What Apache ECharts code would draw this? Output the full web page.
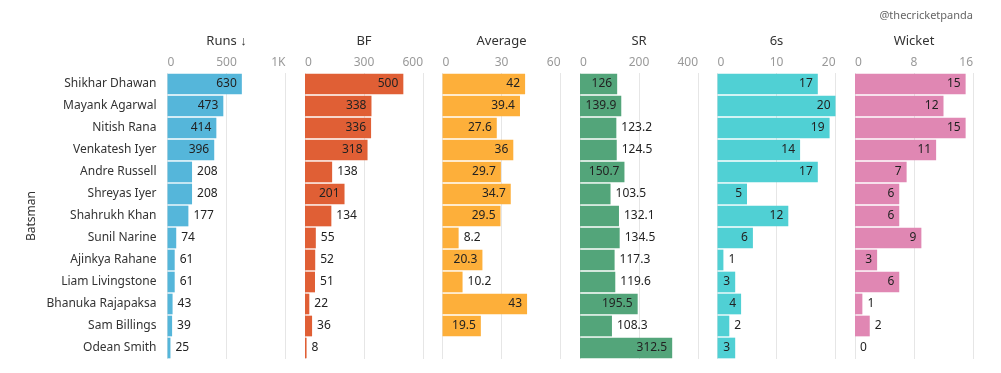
<!DOCTYPE html>
<html>
<head>
<meta charset="utf-8">
<script src="https://cdn.jsdelivr.net/npm/echarts@6/dist/echarts.min.js"></script>
<style>
html,body{margin:0;padding:0;background:#fff;}
#chart{width:1001px;height:373px;}
</style>
</head>
<body>
<div id="chart"></div>
<script>
const batsmen = ["Shikhar Dhawan","Mayank Agarwal","Nitish Rana","Venkatesh Iyer","Andre Russell","Shreyas Iyer","Shahrukh Khan","Sunil Narine","Ajinkya Rahane","Liam Livingstone","Bhanuka Rajapaksa","Sam Billings","Odean Smith"];
const runs = [630,473,414,396,208,208,177,74,61,61,43,39,25];
const ballsFaced = [500,338,336,318,138,201,134,55,52,51,22,36,8];
const average = [42,39.4,27.6,36,29.7,34.7,29.5,8.2,20.3,10.2,43,19.5,null];
const strikeRate = [126,139.9,123.2,124.5,150.7,103.5,132.1,134.5,117.3,119.6,195.5,108.3,312.5];
const sixes = [17,20,19,14,17,5,12,6,1,3,4,2,3];
const wickets = [15,12,15,11,7,6,6,9,3,6,1,2,0];

const panelTitles = ["Runs \u2193","BF","Average","SR","6s","Wicket"];
const axisMax = [1000,600,60,400,20,16];
const axisStep = [500,300,30,200,10,8];
const panelData = [runs,ballsFaced,average,strikeRate,sixes,wickets];
const colors = ["#55B6DA","#E05F35","#FDAF3A","#53A57A","#50D0D4","#E087B3"];

const FONT = "Noto Sans";
const LABEL_SIZE = 12;
const panelLeft = 167.5, panelW = 118, panelStep = 137.5, gridTop = 73, gridH = 286;

const ctx = document.createElement('canvas').getContext('2d');
ctx.font = LABEL_SIZE + 'px "' + FONT + '"';
function tw(s){ return ctx.measureText(s).width; }

const grids = [], xAxes = [], yAxes = [], series = [];
panelData.forEach((arr, i) => {
  grids.push({left: panelLeft + i*panelStep, top: gridTop, width: panelW, height: gridH});
  xAxes.push({
    type:'value', gridIndex:i, position:'top', min:0, max:axisMax[i], interval:axisStep[i],
    name: panelTitles[i], nameLocation:'middle', nameGap:25,
    nameTextStyle:{fontFamily:FONT, fontSize:13, color:'#333'},
    axisLine:{show:false}, axisTick:{show:false},
    splitLine:{show:true, lineStyle:{color:'#E6E6E6', width:1}},
    axisLabel:{fontFamily:FONT, fontSize:12, color:'#999', margin:4,
      alignMinLabel:'left', alignMaxLabel:'right',
      formatter: v => (v >= 1000 ? (v/1000) + 'K' : String(v))}
  });
  yAxes.push({
    type:'category', gridIndex:i, data:batsmen, inverse:true,
    axisLine:{show:false}, axisTick:{show:false}, splitLine:{show:false},
    axisLabel:{show: i===0, fontFamily:FONT, fontSize:12, color:'#333', margin:11},
    name: i===0 ? 'Batsman' : '', nameLocation:'middle', nameRotate:90, nameGap:130,
    nameTextStyle:{fontFamily:FONT, fontSize:12, color:'#333'}
  });
  const data = arr.map(v => {
    if (v === null) return {value:null};
    const px = v / axisMax[i] * panelW;
    const inside = px >= tw(String(v)) + 10.5;
    return {value:v, label:{position: inside ? 'insideRight' : 'right'}};
  });
  series.push({
    type:'bar', xAxisIndex:i, yAxisIndex:i, data:data, barCategoryGap:'6%',
    itemStyle:{color:colors[i]},
    label:{show:true, fontFamily:FONT, fontSize:LABEL_SIZE, color:'#222', distance:5},
    silent:true, animation:false
  });
});

const chart = echarts.init(document.getElementById('chart'), null, {renderer:'canvas'});
chart.setOption({
  animation:false,
  title:{text:'@thecricketpanda', right:23, top:5, textStyle:{fontFamily:FONT, fontSize:11, fontWeight:'normal', color:'#666'}},
  grid:grids, xAxis:xAxes, yAxis:yAxes, series:series
});
</script>
</body>
</html>
